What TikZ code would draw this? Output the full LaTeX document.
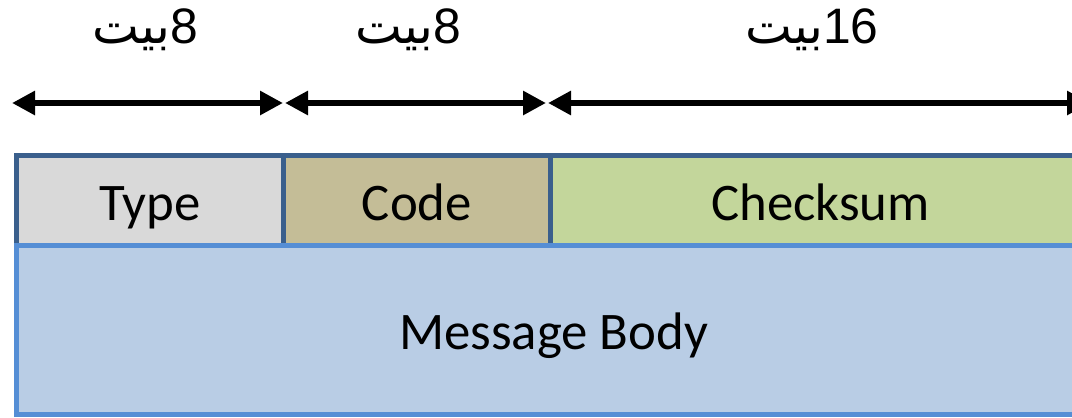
\documentclass[tikz,border=0pt]{standalone}
\usepackage{fontspec}
\usetikzlibrary{arrows.meta}
\TeXXeTstate=1
\setmainfont{Carlito}
\newfontfamily\arabicfont[Script=Arabic]{DejaVu Sans}
\newfontfamily\digitfont{Liberation Sans}
\definecolor{rowline}{HTML}{3A5F8C}
\definecolor{bodyline}{HTML}{558ED5}
\definecolor{typefill}{HTML}{D9D9D9}
\definecolor{codefill}{HTML}{C4BD97}
\definecolor{sumfill}{HTML}{C3D69B}
\definecolor{bodyfill}{HTML}{B9CDE5}
\tikzset{
  boxtext/.style={font=\fontsize{53}{60}\selectfont, text height=40bp, text depth=0pt},
  field/.style={draw=rowline, line width=5bp, anchor=north west, inner sep=0pt,
    outer sep=0pt, boxtext},
  bodybox/.style={draw=bodyline, line width=5bp, anchor=north west, inner sep=0pt,
    outer sep=0pt, fill=bodyfill, boxtext},
  span/.style={line width=6.5bp, {Triangle[length=23bp,width=23bp]}-{Triangle[length=23bp,width=23bp]}},
  width label/.style={inner sep=0pt, font=\fontsize{50}{60}\selectfont}
}
\begin{document}
\begin{tikzpicture}[x=1bp, y=-1bp]
  \useasboundingbox (0,0) rectangle (1072,417);
  \clip (0,0) rectangle (1072,417);
  % header fields
  \node[field, fill=typefill, minimum width=267bp, minimum height=89.5bp] (type) at (16.5,155.5) {Type};
  \node[field, fill=codefill, minimum width=267bp, minimum height=89.5bp] (code) at (283.5,155.5) {Code};
  \node[field, fill=sumfill, minimum width=540bp, minimum height=89.5bp] (sum) at (550.5,155.5) {Checksum};
  % payload
  \node[bodybox, minimum width=1074bp, minimum height=169.5bp] (body) at (16.5,245) {Message Body};
  % field widths
  \coordinate (s0) at (12,103);
  \coordinate (s1) at (283,103);
  \coordinate (s2) at (285,103);
  \coordinate (s3) at (546,103);
  \coordinate (s4) at (548,103);
  \coordinate (s5) at (1090,103);
  \draw[span] (s0) -- (s1);
  \draw[span] (s2) -- (s3);
  \draw[span] (s4) -- (s5);
  \node[width label] (w1) at (145,30) {\beginR{\digitfont 8}{\arabicfont بیت}\endR};
  \node[width label] (w2) at (408,30) {\beginR{\digitfont 8}{\arabicfont بیت}\endR};
  \node[width label] (w3) at (812,30) {\beginR{\digitfont 16}{\arabicfont بیت}\endR};
\end{tikzpicture}
\end{document}
